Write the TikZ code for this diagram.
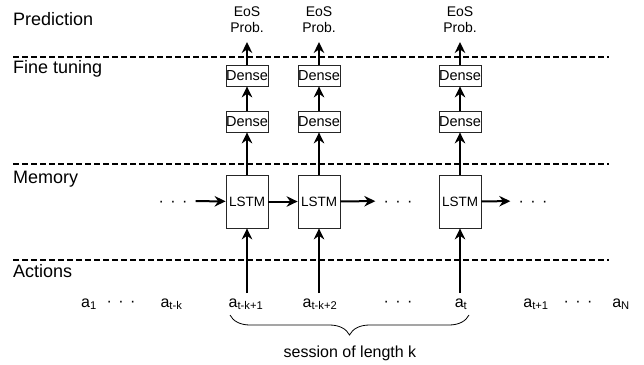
\documentclass[tikz,border=0pt]{standalone}
\usepackage{fontspec}
\setmainfont{Liberation Sans}
\usetikzlibrary{arrows.meta,decorations.pathreplacing}
\newcommand{\sdots}{\textperiodcentered\hspace{6.5pt}\textperiodcentered\hspace{6.5pt}\textperiodcentered}

\begin{document}
\begin{tikzpicture}[x=1pt,y=-1pt,
    layer/.style={anchor=base west,inner sep=0pt,font=\fontsize{18}{20}\selectfont},
    sep/.style={line width=1.8pt,dash pattern=on 6pt off 3pt},
    cell/.style={draw=black!85,line width=0.8pt,inner sep=0pt,minimum width=42pt,font=\fontsize{13.5}{15}\selectfont},
    eos/.style={anchor=south,align=center,inner xsep=0pt,inner ysep=9pt,font=\fontsize{14}{16}\selectfont},
    act/.style={anchor=base,inner xsep=0pt,inner ysep=5pt,font=\fontsize{16}{18}\selectfont},
    dots/.style={inner xsep=8pt,inner ysep=0pt,text height=11.5pt,text depth=0pt,font=\fontsize{16}{18}\selectfont},
    flow/.style={-{Stealth[length=11pt,width=10.5pt]},line width=2pt}]
                \useasboundingbox (0,0) rectangle (644,364);
                \foreach \y/\n/\t in {25/lp/Prediction, 73/lf/Fine tuning, 183/lm/Memory, 277/la/Actions}
                \node[layer] (\n) at (13,\y) {\t};
                \foreach \y in {57,164,260}
                \draw[sep] (13,\y) -- (609,\y);
                \foreach \x/\n in {247/1, 319/2, 460/3} {
                \node[cell,minimum height=53pt] (l\n) at (\x,201.5) {LSTM};
                \node[cell,minimum height=21pt,font=\fontsize{14.5}{16}\selectfont] (lo\n) at (\x,121.5) {Dense};
                \node[cell,minimum height=21pt,font=\fontsize{14.5}{16}\selectfont] (up\n) at (\x,75.5) {Dense};
                \node[eos] (p\n) at (\x,42) {EoS\\Prob.};
                \draw[flow] (l\n) -- (lo\n);
                \draw[flow] (lo\n) -- (up\n);
                \draw[flow] (up\n) -- (p\n);
                }
                \foreach \x/\n/\t in {89/a1/1, 171.5/atk/t-k, 246/atk1/t-k+1, 320/atk2/t-k+2, 461/at/t, 536/at1/t+1, 621/aN/N}
                \node[act] (\n) at (\x,307) {a\textsubscript{\t}};
                \foreach \x/\y/\n in {173/201/md1, 398/201/md2, 533/201/md3, 121/301/ad1, 398/301/ad2, 578/301/ad3}
                \node[dots] (\n) at (\x,\y) {\sdots};
                \foreach \s/\t in {md1/l1, l1/l2, l2/md2, l3/md3}
                \draw[flow] (\s) -- (\t);
                \foreach \s/\t in {atk1/l1, atk2/l2, at/l3}
                \draw[flow] (\t |- \s.north) -- (\t);
                \draw[line width=0.8pt,decorate,decoration={brace,mirror,amplitude=20pt}] (230,315) -- (469,315);
                \node[font=\fontsize{16}{18}\selectfont] (sess) at (350,353) {session of length k};

            \end{tikzpicture}
\end{document}
